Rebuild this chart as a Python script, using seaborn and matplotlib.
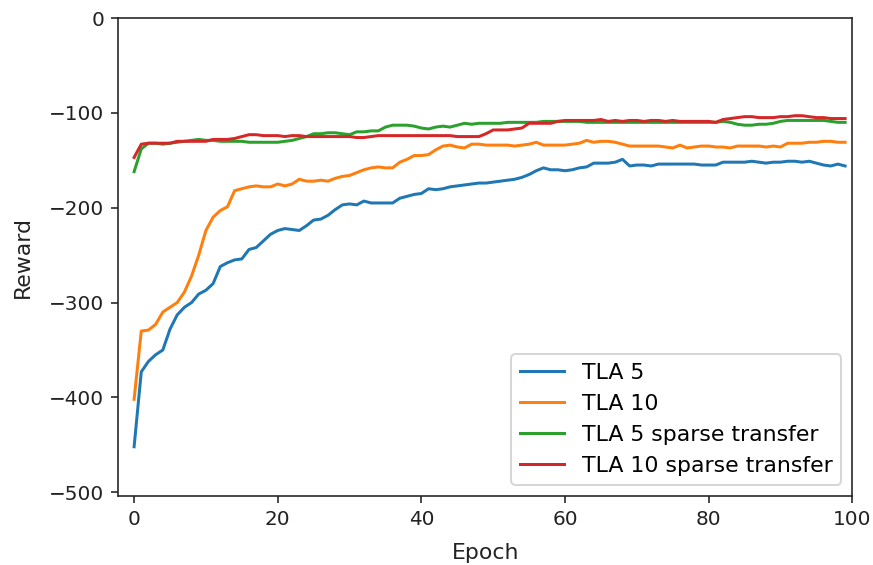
import matplotlib
matplotlib.use("Agg")
import matplotlib.pyplot as plt
import seaborn as sns
import pandas as pd
import numpy as np

epochs = list(range(100))

tla5 = [-452, -373, -362, -355, -350, -328, -313, -305, -300, -291,
        -287, -280, -262, -258, -255, -254, -244, -242, -235, -228,
        -224, -222, -223, -224, -219, -213, -212, -208, -202, -197,
        -196, -197, -193, -195, -195, -195, -195, -190, -188, -186,
        -185, -180, -181, -180, -178, -177, -176, -175, -174, -174,
        -173, -172, -171, -170, -168, -165, -161, -158, -160, -160,
        -161, -160, -158, -157, -153, -153, -153, -152, -149, -156,
        -155, -155, -156, -154, -154, -154, -154, -154, -154, -155,
        -155, -155, -152, -152, -152, -152, -151, -152, -153, -152,
        -152, -151, -151, -152, -151, -153, -155, -156, -154, -156]

tla10 = [-402, -330, -329, -323, -310, -305, -300, -289, -272, -250,
         -224, -210, -203, -199, -182, -180, -178, -177, -178, -178,
         -175, -177, -175, -170, -172, -172, -171, -172, -169, -167,
         -166, -163, -160, -158, -157, -158, -158, -152, -149, -145,
         -145, -144, -139, -135, -134, -136, -137, -133, -133, -134,
         -134, -134, -134, -135, -134, -133, -131, -134, -134, -134,
         -134, -133, -132, -129, -131, -130, -130, -131, -133, -135,
         -135, -135, -135, -135, -136, -137, -134, -137, -136, -135,
         -135, -136, -136, -137, -135, -135, -135, -135, -136, -135,
         -136, -132, -132, -132, -131, -131, -130, -130, -131, -131]

tla5_sparse = [-162, -138, -132, -132, -133, -132, -131, -130, -129, -128,
               -129, -129, -130, -130, -130, -130, -131, -131, -131, -131,
               -131, -130, -129, -127, -125, -122, -122, -121, -121, -122,
               -123, -120, -120, -119, -119, -115, -113, -113, -113, -114,
               -116, -117, -115, -114, -115, -113, -111, -112, -111, -111,
               -111, -111, -110, -110, -110, -110, -110, -109, -109, -109,
               -109, -109, -109, -110, -110, -110, -110, -110, -110, -110,
               -110, -110, -110, -110, -110, -110, -110, -110, -110, -110,
               -110, -110, -109, -110, -112, -113, -113, -112, -112, -111,
               -109, -108, -108, -108, -108, -108, -108, -109, -110, -110]

tla10_sparse = [-147, -133, -132, -132, -132, -132, -130, -130, -130, -130,
                -130, -128, -128, -128, -127, -125, -123, -123, -124, -124,
                -124, -125, -124, -124, -125, -125, -125, -125, -125, -125,
                -125, -126, -126, -125, -124, -124, -124, -124, -124, -124,
                -124, -124, -124, -124, -124, -125, -125, -125, -125, -122,
                -118, -118, -118, -117, -116, -111, -111, -111, -111, -109,
                -108, -108, -108, -108, -108, -107, -109, -108, -109, -108,
                -108, -109, -108, -108, -109, -108, -109, -109, -109, -109,
                -109, -110, -107, -106, -105, -104, -104, -105, -105, -105,
                -104, -104, -103, -103, -104, -105, -105, -106, -106, -106]

series_names = ["TLA 5", "TLA 10", "TLA 5 sparse transfer", "TLA 10 sparse transfer"]
series_values = [tla5, tla10, tla5_sparse, tla10_sparse]

frames = []
for name, vals in zip(series_names, series_values):
    frames.append(pd.DataFrame({"Epoch": epochs, "Reward": vals, "series": name}))
df = pd.concat(frames, ignore_index=True)

fig = plt.figure(figsize=(873 / 144, 565 / 144), dpi=144)
ax = fig.add_axes([118.3 / 873, 1 - 495.7 / 565, (852.3 - 118.3) / 873, (495.7 - 18) / 565])

palette = sns.color_palette("tab10", 4)
sns.lineplot(data=df, x="Epoch", y="Reward", hue="series", hue_order=series_names,
             palette=palette, linewidth=1.5, ax=ax, estimator=None)

ax.set_xlim(-2.2, 100)
ax.set_ylim(-503.6, 0)
ax.set_xticks([0, 20, 40, 60, 80, 100])
ax.set_yticks([0, -100, -200, -300, -400, -500])
ax.tick_params(labelsize=10, colors="#222222")
for s in ax.spines.values():
    s.set_color("#222222")
ax.set_xlabel("Epoch", fontsize=11, labelpad=7, color="#222222")
ax.set_ylabel("Reward", fontsize=11, labelpad=8, color="#222222")

leg = ax.legend(loc="lower right", fontsize=11, title=None)

fig.savefig("out.png", dpi=144)
